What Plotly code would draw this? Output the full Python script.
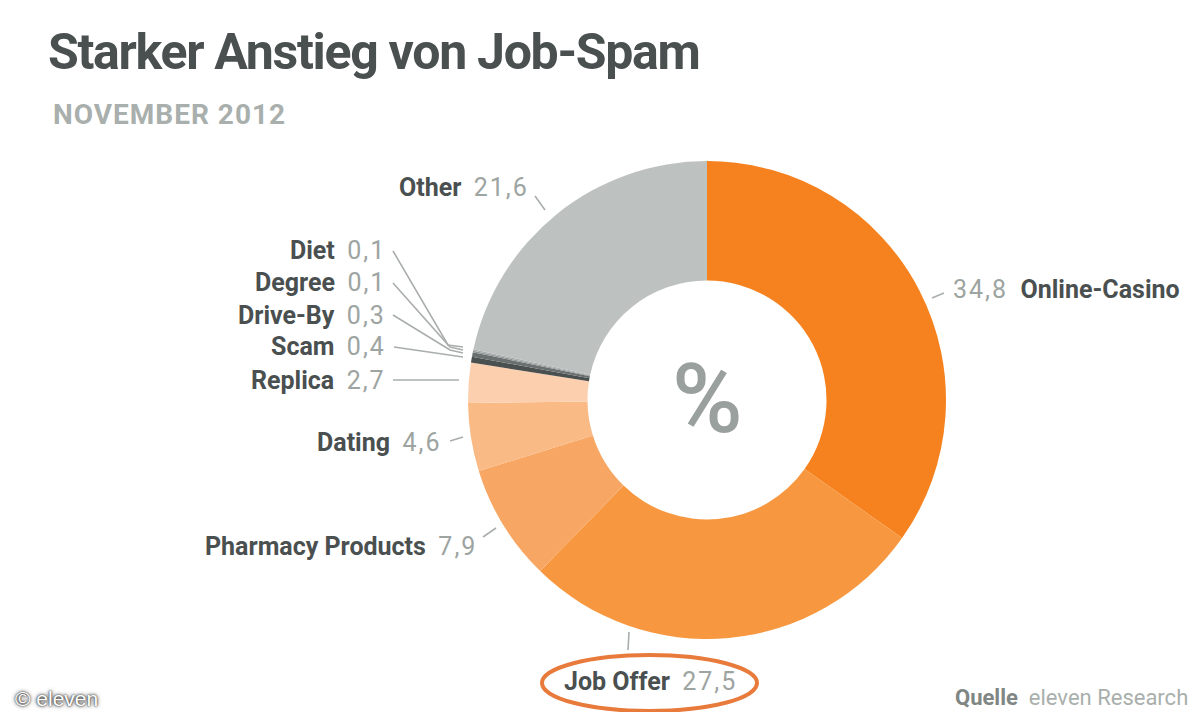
import plotly.graph_objects as go

# data
categories = ["Online-Casino", "Job Offer", "Pharmacy Products", "Dating", "Replica",
              "Scam", "Drive-By", "Degree", "Diet", "Other"]
values = [34.8, 27.5, 7.9, 4.6, 2.7, 0.4, 0.3, 0.1, 0.1, 21.6]
slice_colors = ["#F6821F", "#F79840", "#F7A763", "#F9BA85", "#FCD0AE",
                "#4A4F4F", "#6A7070", "#8F9494", "#A8ADAB", "#BDC2C0"]

# the page has an 8px body margin, so the figure is drawn that much smaller
PAGE_MARGIN = 8
W, H = 1200 - 2 * PAGE_MARGIN, 720 - 2 * PAGE_MARGIN
FONT = "Roboto"
DARK = "#4A4F50"
GREY = "#9DA4A1"
VALUE_STYLE = f"color:{GREY};letter-spacing:2px"


def px(x):
    return (x - PAGE_MARGIN) / W


def py(y):
    return 1 - (y - PAGE_MARGIN) / H


def num(v):
    return f"{v:.1f}".replace(".", ",")


fig = go.Figure(go.Pie(
    labels=categories,
    values=values,
    hole=0.5,
    sort=False,
    direction="clockwise",
    rotation=0,
    textinfo="none",
    marker=dict(colors=slice_colors, line=dict(width=0)),
    domain=dict(x=[px(468), px(946)], y=[py(639), py(161)]),
    showlegend=False,
))

# label anchor: (right edge x, centre y) for "name value" labels
label_pos = {
    "Other": (531, 188),
    "Diet": (388, 250),
    "Degree": (388, 282),
    "Drive-By": (388, 315),
    "Scam": (388, 347),
    "Replica": (388, 380),
    "Dating": (443, 442),
    "Pharmacy Products": (479, 546),
    "Job Offer": (739, 681),
}


def note(text, x, y, size, color=DARK, anchor="left", **kw):
    font = dict(family=FONT, size=size, color=color)
    font.update(kw.pop("font_extra", {}))
    fig.add_annotation(text=text, x=px(x), y=py(y), xref="paper", yref="paper",
                       xanchor=anchor, yanchor="middle", showarrow=False, font=font, **kw)


for name, val in zip(categories, values):
    if name in label_pos:
        x, y = label_pos[name]
        txt = f"<b>{name}</b>  <span style='{VALUE_STYLE}'>{num(val)}</span>"
        note(txt, x, y, 25, anchor="right")

# Online-Casino reads the other way round
note(f"<span style='{VALUE_STYLE}'>{num(values[0])}</span>  <b>{categories[0]}</b>", 951, 289, 25)

note("<b><span style='letter-spacing:-1.3px'>Starker Anstieg von Job-Spam</span></b>",
     46, 52, 50, color="#4A4F50")
note("<b><span style='letter-spacing:1px'>NOVEMBER 2012</span></b>", 51, 114, 28, color="#A9AFAC")
note("%", 707, 399, 96, color="#9AA09D", anchor="center", font_extra=dict(weight=500))
note("<b>Quelle</b>  <span style='color:#A9AFAC'>eleven Research</span>", 1190, 697, 22,
     color="#7F8684", anchor="right")
note("© eleven", 13, 698, 21, color="#FFFFFF",
     font_extra=dict(family="Liberation Sans", shadow="0px 0px 2px #111111, 0px 0px 4px #333333"))

# leader lines
leaders = [
    [(535, 196), (545, 210)],
    [(932, 298), (944, 293)],
    [(393, 251), (448, 345), (463, 347)],
    [(393, 283), (450, 347), (463, 350)],
    [(393, 315), (450, 350), (463, 353)],
    [(394, 347), (463, 357)],
    [(393, 380), (459, 380)],
    [(450, 441), (463, 437)],
    [(483, 537), (496, 528)],
    [(629, 632), (628, 650)],
]
for pts in leaders:
    path = "M " + " L ".join(f"{px(a)},{py(b)}" for a, b in pts)
    fig.add_shape(type="path", path=path, xref="paper", yref="paper",
                  line=dict(color="#A9AEAC", width=1.6))

# highlight ring around Job Offer
fig.add_shape(type="circle", xref="paper", yref="paper",
              x0=px(542), x1=px(757), y0=py(711), y1=py(655),
              line=dict(color="#E87B3C", width=4))

fig.update_layout(
    width=W, height=H,
    margin=dict(l=0, r=0, t=0, b=0),
    paper_bgcolor="#FFFFFF",
    font=dict(family=FONT),
)

fig.write_html("out.html")
